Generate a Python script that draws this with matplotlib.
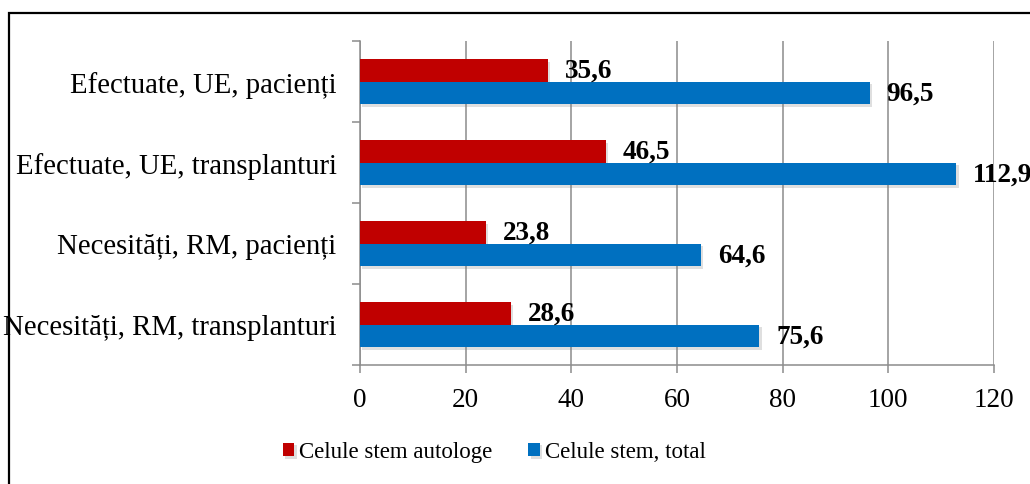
import matplotlib
matplotlib.use("Agg")
import matplotlib.pyplot as plt
import matplotlib.patches as patches
import matplotlib.patheffects as pe

plt.rcParams['font.family'] = ['Liberation Serif', 'DejaVu Serif']

# data (bottom to top)
categories = ["Necesități, RM, transplanturi", "Necesități, RM, pacienți",
              "Efectuate, UE, transplanturi", "Efectuate, UE, pacienți"]
autologe = [28.6, 23.8, 46.5, 35.6]
total = [75.6, 64.6, 112.9, 96.5]
series_names = ["Celule stem autologe", "Celule stem, total"]
x_ticks = [0, 20, 40, 60, 80, 100, 120]

RED = '#C00000'
BLUE = '#0070C0'
GRID = '#8C8C8C'

fig = plt.figure(figsize=(10.3, 4.85), dpi=100)
ax = fig.add_axes([360 / 1030, 1 - 366 / 485, 634 / 1030, 324 / 485])

h = 0.278
pos = list(range(len(categories)))
shadow = [pe.SimplePatchShadow(offset=(1.5, -2), shadow_rgbFace='gray', alpha=0.25), pe.Normal()]

b1 = ax.barh([p + h / 2 for p in pos], autologe, height=h, color=RED, label=series_names[0],
             zorder=3, path_effects=shadow)
b2 = ax.barh([p - h / 2 for p in pos], total, height=h, color=BLUE, label=series_names[1],
             zorder=3, path_effects=shadow)

for bars, vals in ((b1, autologe), (b2, total)):
    for bar, v in zip(bars, vals):
        ax.annotate(f"{v:.1f}".replace('.', ','),
                    (bar.get_width(), bar.get_y() + bar.get_height() / 2),
                    xytext=(12, 0), textcoords='offset points',
                    ha='left', va='center', fontsize=19.5, fontweight='bold',
                    annotation_clip=False, zorder=5)

ax.set_xlim(0, 120)
ax.set_ylim(-0.5, len(categories) - 0.5)
ax.set_xticks(x_ticks)
ax.set_yticks(pos)
ax.set_yticklabels(categories)
ax.set_yticks([p - 0.5 for p in range(len(categories) + 1)], minor=True)

ax.tick_params(axis='y', which='major', length=0, pad=17, labelsize=20.7)
ax.tick_params(axis='y', which='minor', length=6, width=1.1, color=GRID, direction='out')
ax.tick_params(axis='x', which='major', length=6, width=1.1, color=GRID, pad=10, labelsize=19.5)

ax.grid(axis='x', color=GRID, linewidth=1.1, zorder=0)
ax.set_axisbelow(True)
for s in ('top', 'right'):
    ax.spines[s].set_visible(False)
for s in ('left', 'bottom'):
    ax.spines[s].set_color(GRID)
    ax.spines[s].set_linewidth(1.1)

fig.legend(handles=[b1, b2], labels=series_names, loc='center',
           bbox_to_anchor=(0.480, 1 - 453 / 485), ncol=2, frameon=False,
           fontsize=16.5, handlelength=0.52, handleheight=0.52,
           handletextpad=0.22, columnspacing=1.56)

# outer frame of the chart (cut by the page at right and bottom)
frame = patches.Rectangle((9 / 1030, -0.05), 1.2, 1 - 14 / 485 + 0.05,
                          transform=fig.transFigure, fill=False,
                          edgecolor='black', linewidth=1.6, clip_on=False)
fig.add_artist(frame)

fig.savefig("out.png", dpi=100)
